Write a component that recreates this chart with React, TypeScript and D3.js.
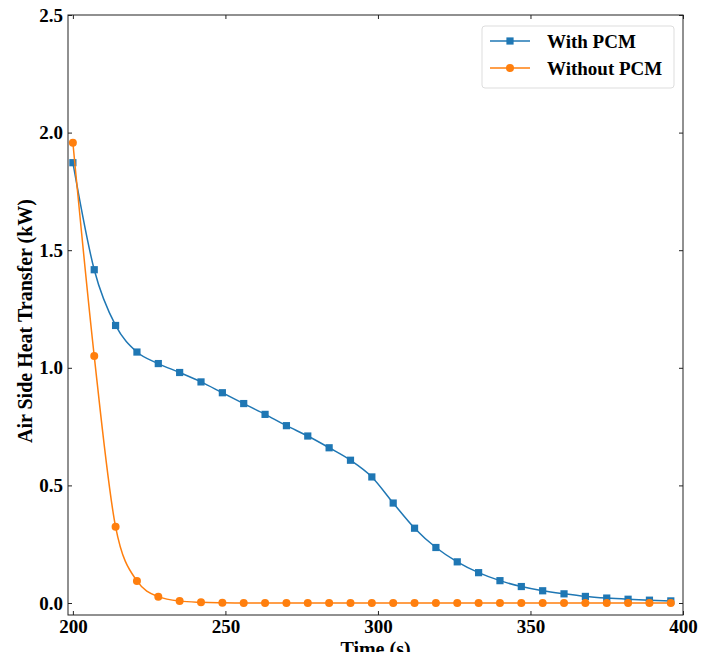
import React, { useEffect, useRef } from 'react';
import * as d3 from 'd3';

const TIMES = [200, 207, 214, 221, 228, 235, 242, 249, 256, 263, 270, 277, 284, 291, 298,
    305, 312, 319, 326, 333, 340, 347, 354, 361, 368, 375, 382, 389, 396];

const WITH_PCM = [1.872, 1.417, 1.18, 1.067, 1.018, 0.98, 0.94, 0.894, 0.848, 0.802, 0.754,
    0.71, 0.66, 0.607, 0.536, 0.425, 0.318, 0.236, 0.175, 0.129, 0.095, 0.07, 0.052, 0.039,
    0.028, 0.021, 0.016, 0.012, 0.009];

const WITHOUT_PCM = [1.957, 1.05, 0.324, 0.094, 0.027, 0.008, 0.003, 0.001, 0, 0, 0, 0, 0, 0, 0,
    0, 0, 0, 0, 0, 0, 0, 0, 0, 0, 0, 0, 0, 0];

const X_TICKS = [200, 250, 300, 350, 400];
const Y_TICKS = [0, 0.5, 1.0, 1.5, 2.0, 2.5];

const SERIES = [
    { label: 'With PCM', values: WITH_PCM, color: '#1f77b4', marker: 'square' },
    { label: 'Without PCM', values: WITHOUT_PCM, color: '#ff7f0e', marker: 'circle' },
];

const W = 710;
const H = 652;
const margin = { top: 15, right: 27, bottom: 37, left: 68 };
const FONT = '"Liberation Serif", "Times New Roman", serif';

const App = () => {
    const svgRef = useRef<SVGSVGElement>(null);

    useEffect(() => {
        const svg = d3.select(svgRef.current);
        svg.selectAll('*').remove();

        const x = d3.scaleLinear().domain([198.4, 400]).range([margin.left, W - margin.right]);
        const y = d3.scaleLinear().domain([-0.051, 2.5]).range([H - margin.bottom, margin.top]);

        const plot = svg.append('g');

        // lines + markers
        SERIES.forEach(s => {
            const pts = TIMES.map((t, i) => [t, s.values[i]] as [number, number]);
            const line = d3.line<[number, number]>()
                .x(d => x(d[0]))
                .y(d => y(d[1]))
                .curve(d3.curveMonotoneX);
            plot.append('path')
                .attr('d', line(pts))
                .attr('fill', 'none')
                .attr('stroke', s.color)
                .attr('stroke-width', 1.5);
            if (s.marker === 'square') {
                plot.selectAll(null).data(pts).enter().append('rect')
                    .attr('x', d => x(d[0]) - 3.6)
                    .attr('y', d => y(d[1]) - 3.6)
                    .attr('width', 7.2)
                    .attr('height', 7.2)
                    .attr('fill', s.color);
            } else {
                plot.selectAll(null).data(pts).enter().append('circle')
                    .attr('cx', d => x(d[0]))
                    .attr('cy', d => y(d[1]))
                    .attr('r', 4)
                    .attr('fill', s.color);
            }
        });

        // axes, ticks inward on all sides
        const tickLen = 4;
        const fmtY = d3.format('.1f');
        const axes = svg.append('g');
        axes.append('g')
            .attr('transform', `translate(0,${H - margin.bottom})`)
            .call(d3.axisBottom(x).tickValues(X_TICKS).tickSizeInner(-tickLen).tickSizeOuter(0).tickPadding(5));
        axes.append('g')
            .attr('transform', `translate(0,${margin.top})`)
            .call(d3.axisTop(x).tickValues(X_TICKS).tickSizeInner(-tickLen).tickSizeOuter(0).tickFormat(() => ''));
        axes.append('g')
            .attr('transform', `translate(${margin.left},0)`)
            .call(d3.axisLeft(y).tickValues(Y_TICKS).tickSizeInner(-tickLen).tickSizeOuter(0).tickPadding(5).tickFormat(d => fmtY(+d)));
        axes.append('g')
            .attr('transform', `translate(${W - margin.right},0)`)
            .call(d3.axisRight(y).tickValues(Y_TICKS).tickSizeInner(-tickLen).tickSizeOuter(0).tickFormat(() => ''));
        axes.selectAll('.domain').remove();
        axes.selectAll('.tick line').attr('stroke', '#222');
        axes.selectAll('.tick text')
            .attr('font-family', FONT)
            .attr('font-weight', 'bold')
            .attr('font-size', 19)
            .attr('fill', '#000');

        svg.append('rect')
            .attr('x', margin.left)
            .attr('y', margin.top)
            .attr('width', W - margin.left - margin.right)
            .attr('height', H - margin.top - margin.bottom)
            .attr('fill', 'none')
            .attr('stroke', '#222')
            .attr('stroke-width', 1);

        // axis labels
        svg.append('text')
            .attr('x', (margin.left + W - margin.right) / 2)
            .attr('y', 656)
            .attr('text-anchor', 'middle')
            .attr('font-family', FONT)
            .attr('font-weight', 'bold')
            .attr('font-size', 20)
            .text('Time (s)');
        svg.append('text')
            .attr('transform', `translate(32,${(margin.top + H - margin.bottom) / 2 + 6}) rotate(-90)`)
            .attr('text-anchor', 'middle')
            .attr('font-family', FONT)
            .attr('font-weight', 'bold')
            .attr('font-size', 20)
            .text('Air Side Heat Transfer (kW)');

        // legend
        const lg = svg.append('g').attr('transform', 'translate(482,26)');
        lg.append('rect')
            .attr('width', 192)
            .attr('height', 62)
            .attr('rx', 3)
            .attr('fill', '#fff')
            .attr('stroke', '#ddd');
        SERIES.forEach((s, i) => {
            const yy = 15 + i * 27;
            lg.append('line')
                .attr('x1', 8).attr('x2', 48)
                .attr('y1', yy).attr('y2', yy)
                .attr('stroke', s.color).attr('stroke-width', 1.5);
            if (s.marker === 'square') {
                lg.append('rect').attr('x', 28 - 3.6).attr('y', yy - 3.6)
                    .attr('width', 7.2).attr('height', 7.2).attr('fill', s.color);
            } else {
                lg.append('circle').attr('cx', 28).attr('cy', yy).attr('r', 4).attr('fill', s.color);
            }
            lg.append('text')
                .attr('x', 65)
                .attr('y', yy + 6.5)
                .attr('font-family', FONT)
                .attr('font-weight', 'bold')
                .attr('font-size', 19)
                .text(s.label);
        });
    }, []);

    return (
        <svg ref={svgRef} width={W} height={H}
            style={{ position: 'absolute', left: 0, top: 0, background: '#fff' }} />
    );
};

export default App;
